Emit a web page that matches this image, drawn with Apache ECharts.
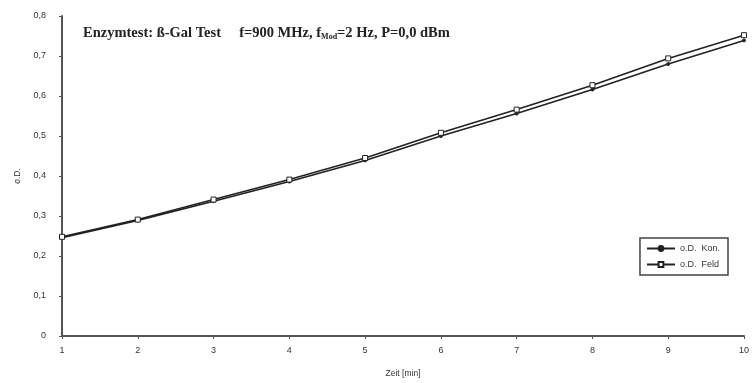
<!DOCTYPE html>
<html><head><meta charset="utf-8">
<script src="https://cdn.jsdelivr.net/npm/echarts@6/dist/echarts.min.js"></script>
<style>html,body{margin:0;padding:0;background:#fff}#c{width:752px;height:383px}</style>
</head><body><div id="c"></div>
<script>
const xValues = [1, 2, 3, 4, 5, 6, 7, 8, 9, 10];
const konValues = [0.246, 0.289, 0.337, 0.386, 0.439, 0.500, 0.556, 0.616, 0.680, 0.739];
const feldValues = [0.248, 0.291, 0.341, 0.391, 0.445, 0.508, 0.566, 0.627, 0.694, 0.752];
const seriesNames = ['o.D.  Kon.', 'o.D.  Feld'];
const xAxisName = 'Zeit [min]';
const yAxisName = 'o.D.';

const chart = echarts.init(document.getElementById('c'), null, {renderer: 'canvas'});
const pair = (vals) => xValues.map((x, i) => [x, vals[i]]);
const axisLine = {lineStyle: {color: '#555', width: 2}};
chart.setOption({
  animation: false,
  backgroundColor: '#fff',
  title: {
    text: '{b|Enzymtest: ß-Gal Test     f=900 MHz, f}{s|Mod}{b|=2 Hz, P=0,0 dBm}',
    left: 78, top: 20,
    textStyle: {
      rich: {
        b: {fontFamily: 'Liberation Serif', fontWeight: 'bold', fontSize: 14.5, color: '#222'},
        s: {fontFamily: 'Liberation Serif', fontWeight: 'bold', fontSize: 8, color: '#222', verticalAlign: 'bottom', padding: [8, 0, 0, 0]}
      }
    }
  },
  grid: {left: 62, right: 4, top: 16, bottom: 45, containLabel: false},
  legend: {
    orient: 'vertical', right: 24, top: 238,
    itemGap: 7, itemWidth: 28, itemHeight: 6,
    padding: [6, 8, 6, 6],
    borderColor: '#444', borderWidth: 1.5,
    textStyle: {fontFamily: 'Liberation Sans', fontSize: 9, color: '#333'},
    data: [seriesNames[0], seriesNames[1]]
  },
  xAxis: {
    type: 'value', min: 1, max: 10, interval: 1,
    name: xAxisName, nameLocation: 'middle', nameGap: 33,
    nameTextStyle: {fontFamily: 'Liberation Sans', fontSize: 8.5, color: '#333'},
    axisLine: axisLine,
    axisTick: {show: true, length: 3, lineStyle: {color: '#555'}},
    axisLabel: {fontFamily: 'Liberation Sans', fontSize: 9, color: '#333', margin: 10},
    splitLine: {show: false}
  },
  yAxis: {
    type: 'value', min: 0, max: 0.8, interval: 0.1,
    name: yAxisName, nameLocation: 'middle', nameGap: 40, nameRotate: 90,
    nameTextStyle: {fontFamily: 'Liberation Sans', fontSize: 8.5, color: '#333'},
    axisLine: {show: true, lineStyle: {color: '#555', width: 2}},
    axisTick: {show: true, length: 3, lineStyle: {color: '#555'}},
    axisLabel: {fontFamily: 'Liberation Sans', fontSize: 9, color: '#333', margin: 16,
      formatter: v => (Math.round(v * 10) / 10).toString().replace('.', ',')},
    splitLine: {show: false}
  },
  series: [
    {
      name: seriesNames[0], type: 'line', data: pair(konValues),
      symbol: 'circle', symbolSize: 3, showSymbol: true,
      lineStyle: {color: '#222', width: 1.6},
      itemStyle: {color: '#222', borderColor: '#222', borderWidth: 1}
    },
    {
      name: seriesNames[1], type: 'line', data: pair(feldValues),
      symbol: 'rect', symbolSize: 5, showSymbol: true,
      lineStyle: {color: '#222', width: 1.6},
      itemStyle: {color: '#fff', borderColor: '#222', borderWidth: 1}
    }
  ]
});
</script></body></html>
